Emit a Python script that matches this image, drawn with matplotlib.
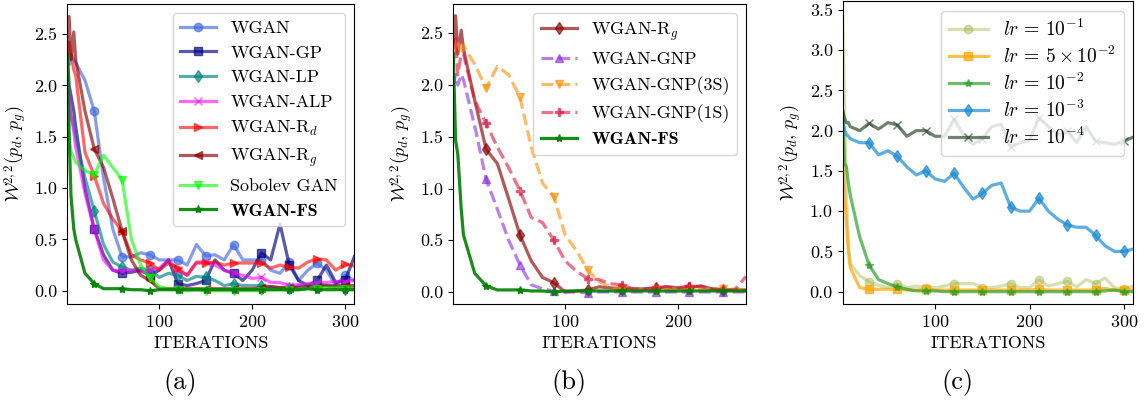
import numpy as np
import matplotlib
matplotlib.use("Agg")
import matplotlib.pyplot as plt

plt.rcParams["font.family"] = "serif"
plt.rcParams["font.serif"] = ["cmr10", "DejaVu Serif"]
plt.rcParams["mathtext.fontset"] = "cm"
plt.rcParams["axes.formatter.use_mathtext"] = True
plt.rcParams["axes.unicode_minus"] = False

# ---- data: iteration grids ----
iter_a = [1, 3, 5, 8] + list(range(10, 320, 10))
iter_b = [1, 3, 5, 8] + list(range(10, 270, 10))
iter_c = [2, 4, 6, 8] + list(range(10, 320, 10))

# ---- panel (a) ----
labels_a = ["WGAN", "WGAN-GP", "WGAN-LP", "WGAN-ALP", r"WGAN-R$_d$",
            r"WGAN-R$_g$", "Sobolev GAN", "WGAN-FS"]
wgan = [2.30, 2.20, 2.30, 2.25, 2.22, 2.05, 1.75, 1.10, 0.60, 0.33, 0.33, 0.37,
        0.35, 0.30, 0.30, 0.30, 0.25, 0.45, 0.34, 0.35, 0.30, 0.45, 0.30, 0.30,
        0.30, 0.20, 0.17, 0.28, 0.10, 0.20, 0.27, 0.20, 0.05, 0.15, 0.10]
wgan_gp = [2.30, 2.00, 1.90, 1.75, 1.60, 1.00, 0.60, 0.35, 0.20, 0.17, 0.18, 0.20,
           0.15, 0.20, 0.30, 0.07, 0.05, 0.07, 0.10, 0.30, 0.20, 0.17, 0.10, 0.20,
           0.37, 0.30, 0.65, 0.25, 0.10, 0.05, 0.10, 0.25, 0.08, 0.10, 0.33]
wgan_lp = [2.10, 1.90, 1.70, 1.60, 1.50, 1.10, 0.78, 0.45, 0.28, 0.23, 0.20, 0.22,
           0.20, 0.13, 0.17, 0.15, 0.10, 0.14, 0.13, 0.10, 0.05, 0.07, 0.05, 0.05,
           0.05, 0.04, 0.03, 0.03, 0.05, 0.06, 0.07, 0.05, 0.03, 0.02, 0.02]
wgan_alp = [2.00, 1.90, 1.70, 1.55, 1.40, 0.95, 0.60, 0.30, 0.20, 0.19, 0.20, 0.18,
            0.20, 0.22, 0.30, 0.20, 0.15, 0.28, 0.28, 0.25, 0.20, 0.17, 0.15, 0.12,
            0.13, 0.08, 0.08, 0.05, 0.06, 0.07, 0.08, 0.08, 0.09, 0.09, 0.10]
wgan_rd = [2.30, 2.42, 2.30, 2.15, 2.10, 1.35, 1.12, 0.85, 0.70, 0.58, 0.35, 0.30,
           0.27, 0.20, 0.27, 0.22, 0.15, 0.27, 0.27, 0.28, 0.25, 0.27, 0.27, 0.27,
           0.27, 0.22, 0.25, 0.23, 0.22, 0.28, 0.31, 0.30, 0.20, 0.26, 0.24]
wgan_rg = [2.30, 2.67, 2.25, 2.52, 2.25, 1.75, 1.38, 1.20, 0.90, 0.58, 0.30, 0.15,
           0.10, 0.02, 0.02, 0.02, 0.02, 0.02, 0.02, 0.02, 0.02, 0.02, 0.02, 0.02,
           0.03, 0.04, 0.03, 0.03, 0.03, 0.04, 0.04, 0.05, 0.05, 0.05, 0.05]
sobolev = [1.90, 1.50, 1.35, 1.30, 1.25, 1.17, 1.13, 1.32, 1.20, 1.08, 0.50, 0.25,
           0.12, 0.04, 0.02, 0.01, 0.00, 0.01, 0.00, 0.00, 0.00, 0.00, 0.00, 0.00,
           0.00, 0.01, 0.01, 0.01, 0.01, 0.02, 0.02, 0.03, 0.03, 0.02, 0.02]
wgan_fs = [2.30, 1.50, 0.92, 0.60, 0.50, 0.17, 0.07, 0.02, 0.02, 0.02, 0.01, 0.01,
           0.00, 0.01, 0.01, 0.01, 0.01, 0.01, 0.01, 0.01, 0.01, 0.01, 0.01, 0.01,
           0.01, 0.01, 0.01, 0.01, 0.01, 0.02, 0.01, 0.01, 0.01, 0.01, 0.01]

# ---- panel (b) ----
labels_b = [r"WGAN-R$_g$", "WGAN-GNP", "WGAN-GNP(3S)", "WGAN-GNP(1S)", "WGAN-FS"]
b_rg = [2.40, 2.67, 2.30, 2.53, 2.35, 1.85, 1.38, 1.24, 0.90, 0.55, 0.30, 0.14,
        0.09, 0.00, 0.01, 0.02, 0.05, 0.04, 0.03, 0.03, 0.03, 0.04, 0.05, 0.04,
        0.04, 0.06, 0.03, 0.02, 0.02, 0.02]
b_gnp = [2.00, 2.10, 2.00, 2.10, 2.05, 1.60, 1.09, 0.80, 0.50, 0.26, 0.07, 0.03,
         0.01, 0.00, 0.00, -0.01, 0.00, 0.00, 0.00, 0.00, 0.00, 0.00, 0.00, 0.00,
         0.00, 0.00, 0.00, 0.00, 0.00, 0.00]
b_3s = [2.40, 2.30, 2.40, 2.30, 2.38, 2.20, 1.97, 2.18, 2.10, 1.88, 1.40, 1.05,
        0.92, 0.55, 0.40, 0.21, 0.10, 0.05, 0.03, 0.02, 0.02, 0.02, 0.03, 0.03,
        0.03, 0.03, 0.03, 0.03, 0.03, 0.02]
b_1s = [2.20, 2.45, 2.10, 2.30, 2.30, 1.85, 1.63, 1.40, 1.20, 0.98, 0.72, 0.67,
        0.50, 0.30, 0.20, 0.13, 0.12, 0.08, 0.07, 0.03, 0.03, 0.04, 0.05, 0.04,
        0.06, 0.05, 0.03, 0.02, 0.02, 0.15]
b_fs = [2.30, 1.47, 1.33, 0.80, 0.55, 0.18, 0.06, 0.02, 0.02, 0.02, 0.01, 0.01,
        0.00, 0.01, 0.01, 0.01, 0.01, 0.01, 0.01, 0.01, 0.01, 0.01, 0.01, 0.01,
        0.01, 0.01, 0.01, 0.01, 0.01, 0.01]

# ---- panel (c) ----
labels_c = [r"$lr \,=\, 10^{-1}$", r"$lr \,=\, 5 \times 10^{-2}$",
            r"$lr \,=\, 10^{-2}$", r"$lr \,=\, 10^{-3}$", r"$lr \,=\, 10^{-4}$"]
lr1 = [3.45, 2.30, 1.20, 0.60, 0.35, 0.20, 0.12, 0.08, 0.05, 0.10, 0.05, 0.07,
       0.05, 0.05, 0.07, 0.10, 0.10, 0.10, 0.05, 0.05, 0.07, 0.10, 0.05, 0.05,
       0.15, 0.07, 0.10, 0.13, 0.06, 0.15, 0.10, 0.17, 0.05, 0.03, 0.07]
lr5e2 = [1.65, 1.20, 0.85, 0.50, 0.30, 0.05, 0.03, 0.03, 0.03, 0.03, 0.02, 0.02,
         0.03, 0.02, 0.02, 0.02, 0.02, 0.02, 0.02, 0.02, 0.02, 0.02, 0.02, 0.02,
         0.03, 0.02, 0.02, 0.02, 0.02, 0.02, 0.02, 0.04, 0.02, 0.02, 0.02]
lr2 = [2.20, 1.60, 1.55, 1.35, 1.20, 0.68, 0.33, 0.15, 0.10, 0.06, 0.03, 0.01,
       0.01, 0.01, 0.00, 0.00, 0.00, 0.00, 0.00, 0.00, 0.00, 0.00, 0.00, 0.00,
       0.00, 0.00, 0.00, 0.00, 0.00, 0.00, 0.00, 0.01, 0.02, 0.00, 0.00]
lr3 = [2.10, 2.00, 1.95, 1.93, 1.90, 1.85, 1.85, 1.70, 1.75, 1.68, 1.55, 1.45,
       1.50, 1.40, 1.37, 1.47, 1.30, 1.15, 1.22, 1.32, 1.35, 1.05, 1.00, 1.00,
       1.16, 1.00, 0.90, 0.83, 0.80, 0.80, 0.70, 0.57, 0.50, 0.50, 0.53]
lr4 = [2.25, 2.15, 2.10, 2.10, 2.05, 2.00, 2.09, 2.02, 2.10, 2.07, 1.93, 2.00,
       2.00, 1.93, 1.93, 2.14, 1.95, 1.83, 1.90, 2.05, 2.08, 1.80, 1.85, 1.88,
       2.16, 2.05, 1.95, 2.00, 1.85, 2.05, 1.87, 1.85, 1.83, 1.87, 1.92]

W, H = 1144, 400
fig = plt.figure(figsize=(W / 100, H / 100), dpi=100)


def px_axes(x0, x1, y0, y1):
    return fig.add_axes([x0 / W, (H - y1) / H, (x1 - x0) / W, (y1 - y0) / H])


def marks(xs):
    # a marker every 30 iterations
    return [i for i, v in enumerate(xs) if v % 30 == 0]


ylab = r"$\mathcal{W}^{2,2}(p_d,\, p_g)$"
FS = 13


def style(ax, xlim, ylim, yticks):
    ax.set_xlim(*xlim)
    ax.set_ylim(*ylim)
    ax.set_yticks(yticks)
    ax.set_yticklabels(["%.1f" % t for t in yticks])
    ax.tick_params(labelsize=FS)
    ax.set_xlabel("ITERATIONS", fontsize=FS)
    ax.set_ylabel(ylab, fontsize=FS)


def bold_last(leg):
    leg.get_texts()[-1].set_fontfamily("cmb10")


# (a)
ax1 = px_axes(67.3, 354.3, 4, 304)
series_a = [wgan, wgan_gp, wgan_lp, wgan_alp, wgan_rd, wgan_rg, sobolev, wgan_fs]
colors_a = ["royalblue", "navy", "teal", "magenta", "red", "darkred", "lime", "green"]
markers_a = ["o", "s", "d", "x", ">", "<", "v", "*"]
alphas_a = [0.65, 0.65, 0.65, 0.6, 0.6, 0.65, 0.6, 0.9]
me_a = marks(iter_a)
for y, lab, c, m, a in zip(series_a, labels_a, colors_a, markers_a, alphas_a):
    ax1.plot(iter_a, y, color=c, marker=m, alpha=a, lw=2.3, ms=6,
             markevery=me_a, label=lab)
style(ax1, (1, 310), (-0.129, 2.792), [0, 0.5, 1.0, 1.5, 2.0, 2.5])
ax1.set_xticks([100, 200, 300])
bold_last(ax1.legend(loc="upper right", fontsize=FS))

# (b)
ax2 = px_axes(453.3, 746, 4, 304)
series_b = [b_rg, b_gnp, b_3s, b_1s, b_fs]
colors_b = ["darkred", "blueviolet", "darkorange", "crimson", "green"]
markers_b = ["d", "^", "v", "P", "*"]
styles_b = ["-", "--", "--", "--", "-"]
alphas_b = [0.65, 0.6, 0.6, 0.6, 0.9]
me_b = marks(iter_b)
for y, lab, c, m, ls, a in zip(series_b, labels_b, colors_b, markers_b, styles_b, alphas_b):
    ax2.plot(iter_b, y, color=c, marker=m, ls=ls, alpha=a, lw=2.3, ms=6,
             markevery=me_b, label=lab)
style(ax2, (1, 260), (-0.116, 2.783), [0, 0.5, 1.0, 1.5, 2.0, 2.5])
ax2.set_xticks([100, 200])
bold_last(ax2.legend(loc="upper right", fontsize=FS))

# (c)
ax3 = px_axes(842.7, 1133.3, 1, 304)
series_c = [lr1, lr5e2, lr2, lr3, lr4]
colors_c = ["#a5b84a", "orange", "tab:green", "#1a8ad4", "#2f4f2f"]
markers_c = ["o", "s", "*", "d", "x"]
alphas_c = [0.45, 0.7, 0.7, 0.7, 0.7]
me_c = marks(iter_c)
for y, lab, c, m, a in zip(series_c, labels_c, colors_c, markers_c, alphas_c):
    ax3.plot(iter_c, y, color=c, marker=m, alpha=a, lw=2.3, ms=6,
             markevery=me_c, label=lab)
style(ax3, (2, 310), (-0.153, 3.61), [0, 0.5, 1.0, 1.5, 2.0, 2.5, 3.0, 3.5])
ax3.set_xticks([100, 200, 300])
ax3.legend(loc="upper right", fontsize=14, labelspacing=0.3)

# sub-captions
for ax, cap in [(ax1, "(a)"), (ax2, "(b)"), (ax3, "(c)")]:
    bb = ax.get_position()
    cx = (bb.x0 + bb.x1) / 2 - 31 / W
    fig.text(cx, (H - 382) / H, cap, ha="center", va="center", fontsize=19)

fig.savefig("out.png", dpi=100)
